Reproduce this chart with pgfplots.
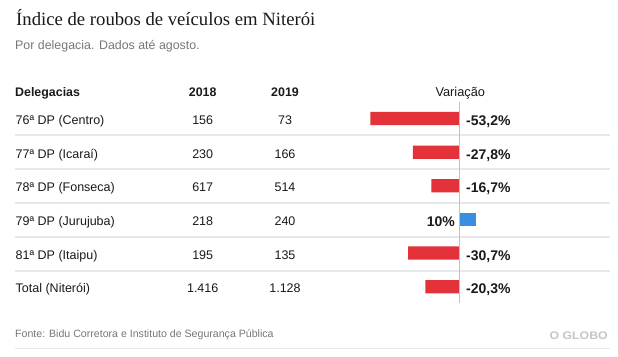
\documentclass[border=0pt]{standalone}
\usepackage{pgfplots}
\pgfplotsset{compat=1.18}
\usepackage{fontspec}
\setmainfont{Liberation Sans}
\newfontfamily\titlefont{Liberation Serif}
\definecolor{barred}{HTML}{E3323A}
\definecolor{barblue}{HTML}{3A8EE0}
\definecolor{zeroline}{HTML}{B9C3CB}
\definecolor{sepline}{HTML}{E6E8EA}
\definecolor{subgray}{HTML}{777777}
\definecolor{txt}{HTML}{1A1A1A}
\definecolor{logogray}{HTML}{C6C6C6}
\tikzset{pct/.style={inner sep=0,text=txt,font=\fontsize{14}{16}\selectfont\bfseries,yshift=-7pt}}
\begin{document}
\begin{tikzpicture}[x=1pt,y=1pt]
\useasboundingbox[fill=white] (0,0) rectangle (618,-356);
% title and subtitle
\node[anchor=base west,inner sep=0,text=txt] at (16,-25) {\titlefont\fontsize{18.7}{22}\selectfont Índice de roubos de veículos em Niterói};
\node[anchor=base west,inner sep=0,text=subgray] at (15,-49.5) {\fontsize{12.4}{15}\selectfont Por delegacia. Dados até agosto.};
% header
\node[anchor=base west,inner sep=0,text=txt] at (15,-96.3) {\fontsize{12.4}{15}\selectfont\bfseries Delegacias};
\node[anchor=base,inner sep=0,text=txt] at (202.7,-96.3) {\fontsize{12.4}{15}\selectfont\bfseries 2018};
\node[anchor=base,inner sep=0,text=txt] at (285,-96.3) {\fontsize{12.4}{15}\selectfont\bfseries 2019};
\node[anchor=base,inner sep=0,text=txt] at (460.3,-96.3) {\fontsize{12.8}{15}\selectfont Variação};
% separators
\foreach \yy in {135,169,203,237,271} {\draw[sepline,line width=1.5pt] (15,-\yy) -- (610,-\yy);}
\draw[sepline,line width=1.5pt] (15,-348.5) -- (610,-348.5);
% rows
\foreach \lab/\a/\b [count=\i] in {76ª DP (Centro)/156/73,77ª DP (Icaraí)/230/166,78ª DP (Fonseca)/617/514,79ª DP (Jurujuba)/218/240,81ª DP (Itaipu)/195/135,Total (Niterói)/1.416/1.128} {
  \pgfmathsetmacro{\yb}{-124.7-33.6*(\i-1)}
  \node[anchor=base west,inner sep=0,text=txt] at (15.5,\yb) {\fontsize{12.5}{15}\selectfont \lab};
  \node[anchor=base,inner sep=0,text=txt] at (202.7,\yb) {\fontsize{12.5}{15}\selectfont \a};
  \node[anchor=base,inner sep=0,text=txt] at (285,\yb) {\fontsize{12.5}{15}\selectfont \b};
}
% bars
\begin{axis}[at={(359.1pt,-101.7pt)}, anchor=north west, scale only axis,
  width=167pt, height=201.8pt, xmin=-60, xmax=40, ymin=0.5, ymax=6.5,
  y dir=reverse, axis lines=none, xbar, bar width=13.3pt, bar shift=0pt, clip=false]
\addplot[fill=barred,draw=none] coordinates {(-53.2,1) (-27.8,2) (-16.7,3) (-30.7,5) (-20.3,6)};
\addplot[fill=barblue,draw=none] coordinates {(10,4)};
\draw[zeroline,line width=1.3pt] (axis cs:0,0.5) -- (axis cs:0,6.5);
\node[pct,anchor=base west,xshift=6.7pt] at (axis cs:0,1) {-53,2\%};
\node[pct,anchor=base west,xshift=6.7pt] at (axis cs:0,2) {-27,8\%};
\node[pct,anchor=base west,xshift=6.7pt] at (axis cs:0,3) {-16,7\%};
\node[pct,anchor=base west,xshift=6.7pt] at (axis cs:0,5) {-30,7\%};
\node[pct,anchor=base west,xshift=6.7pt] at (axis cs:0,6) {-20,3\%};
\node[pct,anchor=base east,xshift=-4.3pt] at (axis cs:0,4) {10\%};
\end{axis}
% footer
\node[anchor=base west,inner sep=0,text=subgray] at (15,-337.5) {\fontsize{10.6}{13}\selectfont Fonte: Bidu Corretora e Instituto de Segurança Pública};
\node[anchor=base east,inner sep=0,text=logogray,xscale=1.12] at (608,-339.5) {\fontsize{11}{13}\selectfont\bfseries O GLOBO};
\end{tikzpicture}
\end{document}
